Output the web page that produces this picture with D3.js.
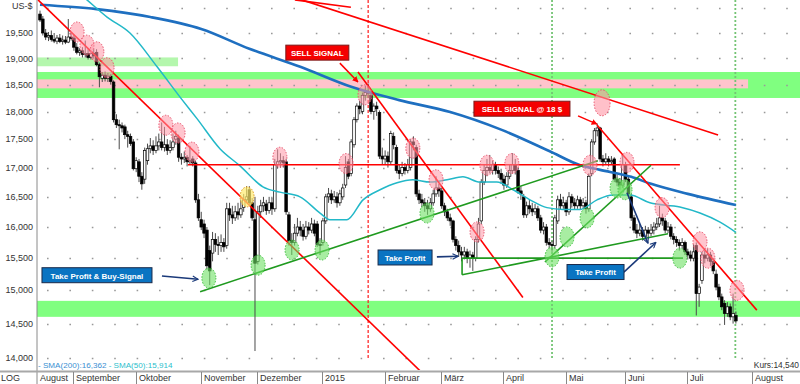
<!DOCTYPE html>
<html><head><meta charset="utf-8">
<script src="https://cdn.jsdelivr.net/npm/d3@7"></script>
<style>body{margin:0;background:#fff}svg{display:block;font-family:"Liberation Sans",Arial,sans-serif}</style>
</head><body><svg id="c" width="800" height="384"></svg>
<script>
// ---------- DATA ----------
const startDate = "2014-08-14";   // first trading day shown (weekdays only)
const axisEnd   = "2015-08-31";
const monthNames = ["August","September","Oktober","November","Dezember","2015","Februar","März","April","Mai","Juni","Juli","August"];
const yTicks = [14,14.5,15,15.5,16,16.5,17,17.5,18,18.5,19,19.5,20];

const open = [19.88,19.78,19.50,19.42,19.45,19.37,19.34,19.40,19.33,19.36,19.32,19.42,19.40,19.22,19.12,19.15,19.08,19.10,19.02,19.10,
19.12,18.88,18.62,18.68,18.62,18.66,18.55,17.85,17.76,17.74,17.72,17.58,17.55,17.45,16.98,17.10,16.85,16.80,17.12,17.33,
17.38,17.30,17.38,17.45,17.35,17.40,17.30,17.35,17.50,17.52,17.18,17.15,17.18,17.10,17.15,17.08,16.45,16.12,16.05,15.95,
15.62,15.58,15.80,15.72,15.70,15.75,15.70,16.30,16.20,16.15,16.25,16.20,16.32,16.45,16.62,16.40,16.12,15.45,16.25,16.35,
16.38,16.27,16.40,16.30,17.05,17.10,17.12,17.10,16.20,15.78,15.75,15.90,16.00,15.95,15.85,16.00,15.95,16.05,16.05,15.72,
15.75,16.10,16.50,16.55,16.45,16.50,16.40,16.50,16.70,17.10,16.90,17.40,17.85,18.10,18.00,18.30,18.35,18.30,18.00,18.10,
17.98,17.20,17.15,17.20,17.10,17.55,17.35,16.95,16.90,17.00,16.95,17.00,17.45,17.35,16.55,16.45,16.40,16.35,16.30,16.40,
16.55,16.65,16.60,16.35,16.25,16.15,16.10,15.80,15.70,15.60,15.55,15.60,15.50,15.55,15.50,15.80,16.10,16.75,16.95,17.00,
16.95,17.05,16.95,16.90,16.80,16.70,16.85,16.95,17.05,16.95,16.60,16.50,16.20,16.35,16.30,16.25,16.30,16.15,15.95,16.00,
15.75,15.72,15.70,16.10,16.45,16.35,16.40,16.25,16.50,16.40,16.35,16.45,16.35,16.40,16.30,16.90,17.45,17.65,17.70,17.15,
17.10,17.15,17.10,17.15,16.80,16.75,16.70,17.05,16.80,16.50,16.15,15.95,15.90,15.95,15.85,15.95,15.90,15.95,16.00,16.05,
16.15,16.10,15.95,16.00,15.85,15.80,15.75,15.70,15.75,15.60,15.55,15.50,15.70,14.95,15.15,15.55,15.50,15.55,15.45,15.25,
15.05,14.90,14.80,14.65,14.75,14.60,14.62];
const high = [19.95,19.84,19.58,19.52,19.55,19.50,19.46,19.48,19.45,19.44,19.78,19.50,19.46,19.30,19.20,19.22,19.35,19.18,19.15,19.20,
19.18,18.92,18.74,18.75,18.72,18.70,18.58,17.95,17.85,17.80,17.76,17.65,17.60,17.50,17.18,17.15,16.92,17.35,17.42,17.52,
17.48,17.55,17.60,17.80,17.72,17.50,17.48,17.60,17.65,17.58,17.25,17.28,17.22,17.38,17.20,17.12,16.55,16.25,16.12,16.00,
15.70,15.92,15.90,15.85,15.88,15.82,16.40,16.40,16.35,16.35,16.40,16.45,16.55,16.68,16.68,16.48,16.50,16.35,16.45,16.50,
16.45,16.50,16.48,17.15,17.32,17.25,17.20,17.15,16.25,15.90,16.05,16.15,16.10,16.05,16.10,16.08,16.15,16.12,16.10,15.82,
16.15,16.55,16.65,16.62,16.60,16.58,16.62,16.72,17.20,17.15,17.50,17.90,18.15,18.20,18.35,18.48,18.52,18.35,18.15,18.18,
18.02,17.35,17.30,17.28,17.65,17.62,17.40,17.05,17.10,17.08,17.15,17.50,17.55,17.40,16.62,16.55,16.48,16.45,16.48,16.62,
16.85,16.72,16.65,16.40,16.30,16.22,16.12,15.85,15.78,15.68,15.68,15.65,15.62,15.60,15.85,16.15,16.80,17.05,17.15,17.22,
17.12,17.10,17.02,16.98,16.88,16.92,17.05,17.25,17.15,17.00,16.68,16.55,16.42,16.45,16.40,16.38,16.35,16.20,16.08,16.05,
15.82,15.78,16.20,16.52,16.55,16.50,16.45,16.58,16.55,16.48,16.52,16.50,16.48,16.45,16.90,17.50,17.70,17.78,17.72,17.22,
17.25,17.20,17.20,17.18,16.88,16.82,17.22,17.10,16.85,16.55,16.20,16.05,16.05,16.00,16.02,16.00,16.05,16.08,16.15,16.35,
16.22,16.15,16.08,16.05,15.90,15.85,15.80,15.82,15.78,15.65,15.62,15.72,15.75,15.10,15.60,15.62,15.65,15.60,15.50,15.32,
15.10,14.95,14.85,14.82,14.80,14.95,14.68];
const low = [19.72,19.45,19.36,19.34,19.33,19.30,19.28,19.30,19.27,19.28,19.30,19.35,19.15,19.08,19.05,19.02,19.02,18.98,18.98,19.00,
18.85,18.45,18.55,18.56,18.55,18.50,17.80,17.70,17.32,17.62,17.50,17.35,17.38,16.95,16.92,16.75,16.62,16.72,17.05,17.25,
17.22,17.25,17.30,17.30,17.28,17.22,17.25,17.30,17.40,17.10,17.05,17.08,17.02,17.05,17.02,16.40,16.10,15.95,15.82,15.32,
15.08,15.45,15.60,15.55,15.60,15.60,15.65,16.10,16.05,16.10,16.12,16.15,16.25,16.40,16.35,16.10,14.10,15.40,16.15,16.25,
16.20,16.22,16.20,16.25,16.98,17.00,17.00,16.20,15.70,15.55,15.70,15.85,15.85,15.78,15.80,15.88,15.90,15.85,15.68,15.55,
15.70,16.05,16.40,16.38,16.40,16.32,16.35,16.45,16.65,16.80,16.85,17.35,17.80,17.95,17.95,18.20,18.25,17.95,17.85,17.92,
17.15,17.05,17.05,17.00,17.05,17.32,16.90,16.80,16.85,16.88,16.90,16.95,17.30,16.50,16.38,16.32,16.25,16.20,16.25,16.35,
16.50,16.50,16.30,16.18,16.10,16.02,15.75,15.62,15.52,15.45,15.48,15.42,15.35,15.30,15.45,15.75,16.05,16.70,16.85,16.90,
16.88,16.88,16.82,16.72,16.62,16.65,16.80,16.90,16.88,16.55,16.45,16.15,16.15,16.22,16.18,16.20,16.10,15.90,15.88,15.70,
15.65,15.60,15.65,16.05,16.28,16.30,16.18,16.20,16.32,16.28,16.30,16.28,16.30,16.22,16.25,16.85,17.40,17.55,17.10,17.02,
17.05,17.02,17.05,16.75,16.68,16.62,16.65,16.75,16.50,16.10,15.90,15.82,15.85,15.78,15.80,15.82,15.85,15.88,15.95,16.00,
16.02,15.90,15.90,15.80,15.72,15.68,15.62,15.65,15.55,15.48,15.45,15.45,14.62,14.75,15.10,15.42,15.45,15.38,15.25,15.00,
14.85,14.70,14.48,14.60,14.55,14.50,14.50];
const close = [19.76,19.50,19.42,19.45,19.37,19.34,19.40,19.33,19.36,19.32,19.42,19.39,19.22,19.12,19.15,19.08,19.10,19.02,19.10,19.05,
18.88,18.65,18.68,18.62,18.66,18.56,17.85,17.76,17.74,17.70,17.58,17.55,17.42,16.98,17.12,16.85,16.72,17.30,17.33,17.38,
17.30,17.38,17.45,17.35,17.40,17.30,17.35,17.45,17.55,17.18,17.15,17.18,17.10,17.12,17.08,16.45,16.15,16.00,15.90,15.38,
15.30,15.80,15.72,15.70,15.75,15.68,16.30,16.20,16.15,16.25,16.20,16.30,16.45,16.50,16.40,16.15,15.42,16.25,16.35,16.40,
16.27,16.40,16.30,17.05,17.10,17.12,17.08,16.25,15.78,15.75,15.90,16.00,15.95,15.85,16.00,15.95,16.05,15.90,15.72,15.70,
16.10,16.50,16.55,16.45,16.50,16.40,16.55,16.65,17.00,16.85,17.45,17.85,18.10,18.05,18.30,18.35,18.35,18.00,18.10,18.05,
17.20,17.15,17.20,17.10,17.60,17.40,16.95,16.90,17.00,16.95,17.05,17.45,17.40,16.55,16.45,16.40,16.35,16.30,16.40,16.55,
16.65,16.60,16.35,16.25,16.15,16.10,15.80,15.70,15.60,15.55,15.60,15.50,15.55,15.50,15.80,16.05,16.75,16.95,17.00,16.95,
17.05,16.95,16.90,16.80,16.70,16.85,16.95,17.05,16.95,16.60,16.55,16.20,16.35,16.30,16.25,16.30,16.15,15.95,16.00,15.75,
15.72,15.70,16.15,16.45,16.35,16.40,16.25,16.50,16.40,16.35,16.45,16.35,16.40,16.30,16.85,17.45,17.65,17.70,17.15,17.10,
17.15,17.10,17.12,16.80,16.75,16.70,17.05,16.80,16.55,16.15,15.95,15.90,15.95,15.85,15.95,15.90,15.95,16.00,16.05,16.15,
16.10,15.95,16.00,15.85,15.80,15.75,15.70,15.75,15.60,15.55,15.50,15.60,14.95,15.05,15.55,15.50,15.55,15.45,15.30,15.05,
14.90,14.75,14.65,14.75,14.60,14.65,14.54];

// moving averages: [trading-day index, value]
const sma200 = [[0,20.07],[20,19.98],[39,19.82],[57,19.58],[74,19.19],[92,18.84],[110,18.46],[127,18.21],[145,17.99],[163,17.67],
[180,17.29],[191,17.04],[198,16.96],[209,16.84],[216,16.72],[229,16.55],[246,16.362]];
const sma50 = [[0,21.0],[16.6,20.17],[23.7,19.82],[31.8,19.5],[41.4,18.84],[50.2,18.22],[55.5,17.87],[63.6,17.33],[70.7,17.03],
[78.8,16.67],[84.8,16.58],[91.9,16.50],[99,16.23],[102.5,16.12],[108.5,16.12],[114.2,16.45],[120.2,16.62],[126.2,16.74],
[131.8,16.79],[137.9,16.75],[143.9,16.79],[149.5,16.84],[155.5,16.75],[161.5,16.75],[167.2,16.62],[173.2,16.45],[179.2,16.32],
[184.9,16.29],[190.9,16.29],[196.9,16.45],[202.5,16.53],[208.6,16.53],[215.6,16.40],[226.2,16.33],[233.3,16.23],[240.4,16.08],[246,15.914]];

// support / resistance zones [from idx, to idx, low price, high price, kind]
const zones = [[-2,48.8,18.85,19.02,"light"],[-2,275,18.25,18.74,"green"],[-2,250.3,18.43,18.60,"pink"],[-2,275,14.60,14.84,"green"]];
// trend lines [idx1, price1, idx2, price2, kind]
const trendLines = [
 [-0.7,20.17,134.3,13.82,"red"],[92.6,20.17,239.7,17.575,"red"],[90.1,20.17,109.9,20.02,"red"],
 [112.4,18.74,170.7,14.89,"red"],[52.3,17.05,226.2,17.05,"red"],[196.9,17.755,253.4,14.70,"red"],
 [56.6,14.98,197.2,17.12,"green"],[178.5,15.44,216,17.04,"green"],[149.2,15.5,227.3,15.5,"green"],
 [149.2,15.24,222,15.89,"green"],[149.2,15.5,149.2,15.24,"green"]];
const markerLines = [[116,"reddash"],[181,"greendot"],[245.8,"greendot"]];
// highlighted candles [idx, price, kind]
const circles = [[13.1,19.52,"p"],[16.6,19.26,"p"],[20.1,19.13,"p"],[23.7,18.82,"p"],[44.5,17.75,"p"],[48.8,17.61,"p"],[53.7,17.27,"p"],
 [84.8,17.18,"p"],[108.2,17.07,"p"],[114.9,18.31,"p"],[131.8,17.34,"p"],[140,16.79,"p"],[154.5,15.92,"p"],[158,17.04,"p"],
 [166.8,17.07,"p"],[194.4,17.04,"p"],[198.7,18.16,"P"],[207.5,17.09,"p"],[219.9,16.32,"p"],[233.3,15.76,"p"],[236.1,15.5,"p"],[246.4,15.0,"p"],
 [59.7,15.19,"g"],[77.1,15.39,"g"],[89.1,15.63,"g"],[99.7,15.63,"g"],[136.8,16.23,"g"],[181,15.52,"g"],[186.3,15.84,"g"],
 [193.4,16.15,"g"],[204,16.65,"g"],[206.8,16.62,"g"],[226.2,15.5,"g"],[73.2,16.5,"y"]];
// arrows [idx1, price1, idx2, price2, colour]
const arrows = [[43.1,15.22,55.9,15.17,"navy"],[140.3,15.52,147.8,15.53,"navy"],[207.5,16.57,214.9,15.74,"navy"],
 [206.4,15.28,217.7,15.75,"navy"],[106,18.91,112.4,18.55,"red"],[190.2,17.92,196.9,17.77,"red"]];
// labels [text, idx(left), price(top), width, kind]
const labels = [["SELL SIGNAL",86.9,19.26,63,"red"],["SELL SIGNAL @ 18 $",153.4,18.19,96,"red"],
 ["Take Profit & Buy-Signal",0.7,15.35,110,"blue"],["Take Profit",119.5,15.63,54,"blue"],["Take Profit",186.3,15.40,57,"blue"]];

// ---------- DRAW ----------
const W = 800, H = 384, plotL = 37, plotB = 370;
const svg = d3.select("#c");
const de = d3.formatLocale({decimal:",",thousands:".",grouping:[3],currency:["","$"]});
const fmt = de.format(".3f");

// trading days (weekdays)
const days = [];
for (let d = new Date(startDate+"T12:00:00Z"); d <= new Date(axisEnd+"T12:00:00Z"); d = new Date(d.getTime()+864e5)) {
  const wd = d.getUTCDay(); if (wd !== 0 && wd !== 6) days.push(d);
}
const x = d3.scaleLinear().domain([0, close.length-1]).range([40, 735.9]);
const y = d3.scaleLog().domain([14, 19.5]).range([358, 33]);

svg.append("defs").append("clipPath").attr("id","clip").append("rect")
  .attr("x",plotL).attr("y",0).attr("width",W-plotL).attr("height",plotB);
["navy","red"].forEach(c=>{
  svg.select("defs").append("marker").attr("id","ah-"+c).attr("viewBox","0 0 10 10").attr("refX",9).attr("refY",5)
    .attr("markerWidth",c==="navy"?7:6).attr("markerHeight",c==="navy"?7:6).attr("orient","auto-start-reverse").attr("markerUnits","userSpaceOnUse")
    .append("path").attr("d",c==="navy"?"M1,1 L9,5 L1,9":"M0,0 L10,5 L0,10 Z")
    .attr("fill",c==="navy"?"none":"#ff0000").attr("stroke",c==="navy"?"#1b3a7a":"none").attr("stroke-width",1.6);
});
const g = svg.append("g").attr("clip-path","url(#clip)");

// zones
const zoneFill = {light:"#b4f7ad", green:"#80ff80", pink:"#ffc4cc"};
g.selectAll(".zone").data(zones).join("rect")
  .attr("x",d=>Math.max(plotL,x(d[0]))).attr("width",d=>x(d[1])-Math.max(plotL,x(d[0])))
  .attr("y",d=>y(d[3])).attr("height",d=>y(d[2])-y(d[3])).attr("fill",d=>zoneFill[d[4]]);

// grid dots
g.selectAll(".grid").data(yTicks).join("line")
  .attr("x1",47).attr("x2",W).attr("y1",d=>Math.round(y(d))+0.5).attr("y2",d=>Math.round(y(d))+0.5)
  .attr("stroke","#999").attr("stroke-width",1.3).attr("stroke-dasharray","1.6 20.8");

// marker verticals
g.selectAll(".mline").data(markerLines).join("line")
  .attr("x1",d=>x(d[0])).attr("x2",d=>x(d[0])).attr("y1",0).attr("y2",y(14))
  .attr("stroke",d=>d[1]==="reddash"?"#ff1a1a":"#74c474").attr("stroke-width",d=>d[1]==="reddash"?1.2:1.8)
  .attr("stroke-dasharray",d=>d[1]==="reddash"?"3 2":"2 2");

// candles
const data = close.map((c,i)=>({i,o:open[i],h:high[i],l:low[i],c}));
g.selectAll(".wick").data(data).join("line")
  .attr("x1",d=>x(d.i)).attr("x2",d=>x(d.i)).attr("y1",d=>y(d.h)).attr("y2",d=>y(d.l))
  .attr("stroke","#4a4a4a").attr("stroke-width",1);
g.selectAll(".body").data(data).join("rect")
  .attr("x",d=>x(d.i)-1.3).attr("width",2.6)
  .attr("y",d=>y(Math.max(d.o,d.c))).attr("height",d=>Math.max(1,Math.abs(y(d.o)-y(d.c))))
  .attr("fill",d=>d.c>=d.o?"#fff":"#000").attr("stroke","#000").attr("stroke-width",0.7);

// moving averages
const line = d3.line().x(d=>x(d[0])).y(d=>y(d[1])).curve(d3.curveMonotoneX);
g.append("path").attr("d",line(sma200)).attr("fill","none").attr("stroke","#1e6fc0").attr("stroke-width",2.6);
g.append("path").attr("d",line(sma50)).attr("fill","none").attr("stroke","#22b8c8").attr("stroke-width",1.5);

// trend lines
g.selectAll(".tl").data(trendLines).join("line")
  .attr("x1",d=>x(d[0])).attr("y1",d=>y(d[1])).attr("x2",d=>x(d[2])).attr("y2",d=>y(d[3]))
  .attr("stroke",d=>d[4]==="red"?"#ff0000":"#1f9a1f").attr("stroke-width",1.6);

// circles
const cStyle = {p:["rgba(255,150,165,0.55)","#e8506a",7,10],P:["rgba(255,150,165,0.6)","#e8506a",8,13],
  g:["rgba(110,225,100,0.6)","#3fbf3f",7,10],y:["rgba(255,235,110,0.7)","#e09a20",7,10]};
g.selectAll(".circ").data(circles).join("ellipse")
  .attr("cx",d=>x(d[0])).attr("cy",d=>y(d[1])).attr("rx",d=>cStyle[d[2]][2]).attr("ry",d=>cStyle[d[2]][3])
  .attr("fill",d=>cStyle[d[2]][0]).attr("stroke",d=>cStyle[d[2]][1]).attr("stroke-width",1).attr("stroke-dasharray","1.5 1.5");

// arrows
g.selectAll(".arr").data(arrows).join("line")
  .attr("x1",d=>x(d[0])).attr("y1",d=>y(d[1])).attr("x2",d=>x(d[2])).attr("y2",d=>y(d[3]))
  .attr("stroke",d=>d[4]==="navy"?"#1b3a7a":"#ff0000").attr("stroke-width",d=>d[4]==="navy"?1.6:1.5)
  .attr("marker-end",d=>"url(#ah-"+d[4]+")");

// labels
const lg = g.selectAll(".lab").data(labels).join("g")
  .attr("transform",d=>`translate(${x(d[1])},${y(d[2])})`);
lg.append("rect").attr("width",d=>d[3]).attr("height",15)
  .attr("fill",d=>d[4]==="red"?"#f40000":"#0a74c2").attr("stroke",d=>d[4]==="red"?"#7a1a1a":"#1a2a4a").attr("stroke-width",1);
lg.append("text").attr("x",d=>d[3]/2).attr("y",10.8).attr("text-anchor","middle")
  .attr("fill","#fff").attr("font-weight","bold").attr("font-size",8).text(d=>d[0]);

// legend inside plot
const leg = svg.append("text").attr("x",38).attr("y",368).attr("font-size",8.1);
leg.append("tspan").attr("fill","#3a8fd2").text("- SMA(200):"+fmt(sma200[sma200.length-1][1]));
leg.append("tspan").attr("fill","#2cc0cc").text(" - SMA(50):"+fmt(sma50[sma50.length-1][1]));
svg.append("text").attr("x",799).attr("y",368).attr("text-anchor","end").attr("font-size",8.4).attr("fill","#333")
  .text("Kurs:"+fmt(close[close.length-1]));

// y axis
svg.append("line").attr("x1",plotL).attr("x2",plotL).attr("y1",0).attr("y2",H).attr("stroke","#8a8a8a").attr("stroke-width",1);
svg.selectAll(".ylab").data(yTicks.filter(t=>t<20)).join("text")
  .attr("x",33).attr("y",d=>y(d)).attr("dy","0.35em").attr("text-anchor","end").attr("font-size",9).attr("fill","#333")
  .text(d=>fmt(d));
svg.append("text").attr("x",12).attr("y",9).attr("font-size",9).attr("fill","#333").text("US-$");

// x axis strip
svg.append("rect").attr("x",0).attr("y",plotB+0.5).attr("width",W).attr("height",2).attr("fill","#a8a8a8");
svg.append("text").attr("x",1).attr("y",381).attr("font-size",9).attr("fill","#333").text("LOG");
const monthTicks = [];
days.forEach((d,i)=>{ if (i>0 && d.getUTCMonth()!==days[i-1].getUTCMonth()) monthTicks.push(i); });
const sepX = [plotL].concat(monthTicks.map(i=>x(i-0.2)));
svg.selectAll(".msep").data(sepX.slice(1)).join("line")
  .attr("x1",d=>Math.round(d)+0.5).attr("x2",d=>Math.round(d)+0.5).attr("y1",plotB+2).attr("y2",H).attr("stroke","#888");
svg.selectAll(".mlab").data(sepX.filter(v=>v<W-10)).join("text")
  .attr("x",d=>Math.round(d)+3).attr("y",381).attr("font-size",9).attr("fill","#333")
  .text((d,i)=>monthNames[i]);
</script></body></html>
